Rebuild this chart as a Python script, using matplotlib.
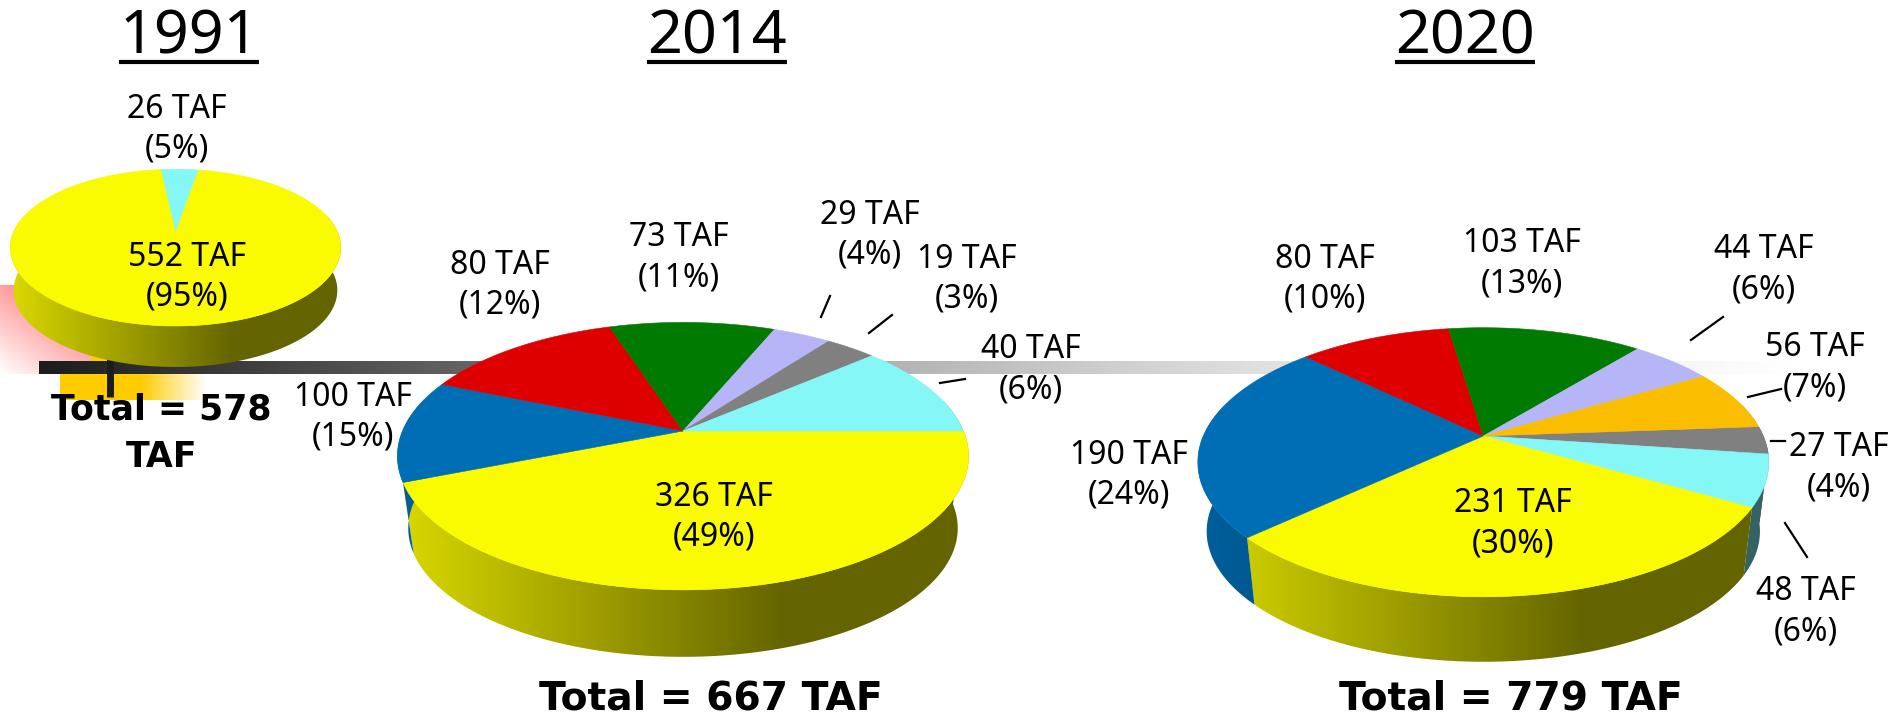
import numpy as np
import matplotlib
matplotlib.use('Agg')
import matplotlib.pyplot as plt
from matplotlib.patches import Polygon

plt.rcParams['font.family'] = ['Noto Sans', 'DejaVu Sans']

# slice sizes are degrees as drawn in the picture, the labels do not follow them
colors_1991 = ['#85F7F7', '#FAFA00']
slices_1991 = [15.9, 344.1]
labels_1991 = ['26 TAF\n(5%)', '552 TAF\n(95%)']

colors_2014 = ['#FAFA00', '#006EB5', '#DE0000', '#007A00', '#B5B5F7', '#808080', '#85F7F7']
slices_2014 = [158.2, 44.6, 49.2, 40.5, 14.2, 12.4, 40.9]
labels_2014 = ['326 TAF\n(49%)', '100 TAF\n(15%)', '80 TAF\n(12%)', '73 TAF\n(11%)',
               '29 TAF\n(4%)', '19 TAF\n(3%)', '40 TAF\n(6%)']

colors_2020 = ['#808080', '#85F7F7', '#FAFA00', '#006EB5', '#DE0000', '#007A00', '#B5B5F7', '#FABD00']
slices_2020 = [12.0, 22.2, 107.0, 87.0, 37.5, 47.8, 20.3, 26.2]
labels_2020 = ['27 TAF\n(4%)', '48 TAF\n(6%)', '231 TAF\n(30%)', '190 TAF\n(24%)',
               '80 TAF\n(10%)', '103 TAF\n(13%)', '44 TAF\n(6%)', '56 TAF\n(7%)']

years = ['1991', '2014', '2020']
totals = ['Total = 578\nTAF', 'Total = 667 TAF', 'Total = 779 TAF']

# label centres in pixels, same order as the labels
pos_1991 = [(177, 129), (187, 277)]
pos_2014 = [(714, 517), (353, 417), (500, 285), (679, 258), (870, 235), (967, 279), (1031, 370)]
pos_2020 = [(1839, 468), (1806, 612), (1513, 524), (1129, 475), (1325, 279), (1522, 264), (1764, 270), (1815, 368)]

leaders = [((821, 317), (830, 296)), ((869, 333), (892, 315)), ((940, 383), (965, 379)),
           ((1691, 340), (1723, 317)), ((1748, 397), (1781, 389)), ((1771, 441), (1785, 441)),
           ((1785, 523), (1807, 557))]


def project(t, cx, cy, a, b, k, scale=1.0, drop=0.0):
    u = np.cos(t)
    v = np.sin(t)
    x = cx + scale * b * u / (1 - k * v)
    y = cy + drop + scale * a * v / (1 - k * v)
    return x, y


def draw_pie(ax, slices, colors, start, cx, cy, a, b, k, scale, drop):
    # angles run clockwise on screen
    edges = start + np.cumsum([0] + list(slices))
    left = cx - b / np.sqrt(1 - k * k)
    width = 2 * b / np.sqrt(1 - k * k)
    bottom = cy + drop + scale * a / (1 - k)

    for i, col in enumerate(colors):
        t = np.radians(np.linspace(edges[i], edges[i + 1], 200))
        keep = np.sin(t) > -0.25
        if keep.sum() < 2:
            continue
        t = t[keep]
        x1, y1 = project(t, cx, cy, a, b, k)
        x2, y2 = project(t, cx, cy, a, b, k, scale, drop)
        pts = np.column_stack([np.r_[x1, x2[::-1]], np.r_[y1, y2[::-1]]])
        poly = Polygon(pts, closed=True, fc='none', ec='none')
        ax.add_patch(poly)
        frac = np.linspace(0, 1, 300)
        shade = np.interp(frac, [0, 0.68, 1], [0.87, 0.40, 0.40])
        rgb = np.array(matplotlib.colors.to_rgb(col))
        img = shade[None, :, None] * rgb[None, None, :]
        im = ax.imshow(img, extent=(left, left + width, bottom, cy - a), aspect='auto', zorder=2,
                       interpolation='bilinear')
        im.set_clip_path(poly)

    for i, col in enumerate(colors):
        t = np.radians(np.linspace(edges[i], edges[i + 1], 200))
        x, y = project(t, cx, cy, a, b, k)
        pts = np.column_stack([np.r_[cx, x], np.r_[cy, y]])
        ax.add_patch(Polygon(pts, closed=True, fc=col, ec=col, lw=0.4, zorder=3))


def fade_rect(ax, x0, x1, y0, y1, rgb, alpha):
    img = np.zeros(alpha.shape + (4,))
    img[..., :3] = matplotlib.colors.to_rgb(rgb)
    img[..., 3] = alpha
    ax.imshow(img, extent=(x0, x1, y1, y0), aspect='auto', zorder=1, interpolation='bilinear')


fig = plt.figure(figsize=(18.9, 7.18), dpi=100)
ax = fig.add_axes([0, 0, 1, 1])

# the leftover shapes behind the first pie
gx, gy = np.meshgrid(np.linspace(0, 1, 100), np.linspace(0, 1, 100))
fade_rect(ax, 0, 92, 285, 374, '#FF8080', np.clip(gx * 0.55 + (1 - gy) * 0.75, 0, 1))
ox = np.linspace(0, 1, 200)[None, :]
fade_rect(ax, 60, 207, 374, 400, '#FFCC00', np.interp(ox, [0, 0.55, 1], [1, 1, 0]))
fade_rect(ax, 91, 207, 353, 361, '#FFCC00', np.interp(ox, [0, 0.4, 1], [1, 1, 0]))

# connector bar
bx = np.linspace(39, 1790, 600)
grey = np.interp(bx, [39, 470, 885, 1100, 1270, 1700, 1790], [28, 100, 178, 205, 225, 248, 255]) / 255
ax.imshow(np.dstack([grey, grey, grey]), extent=(39, 1790, 374, 361), aspect='auto', zorder=1,
          interpolation='bilinear')
ax.plot([109.5, 109.5], [353, 397], color='#1C1C1C', lw=5, zorder=1.5, solid_capstyle='butt')

draw_pie(ax, slices_1991, colors_1991, -96.2, 175.5, 233, 75.6, 162.4, 0.187, 0.979, 43)
draw_pie(ax, slices_2014, colors_2014, 0, 683, 431, 129, 280.5, 0.188, 0.962, 73)
draw_pie(ax, slices_2020, colors_2020, -4.2, 1483.3, 436, 129.4, 280, 0.195, 0.969, 70)

for labs, pos in [(labels_1991, pos_1991), (labels_2014, pos_2014), (labels_2020, pos_2020)]:
    for lab, (x, y) in zip(labs, pos):
        ax.text(x, y, lab, fontsize=23, ha='center', va='center', linespacing=1.28, color='black', zorder=5)

for p, q in leaders:
    ax.plot([p[0], q[0]], [p[1], q[1]], color='black', lw=1.6, zorder=5)

for year, x in zip(years, [189, 717, 1465]):
    ax.text(x, 53, year, fontsize=44, ha='center', va='baseline', zorder=5)
    ax.plot([x - 70, x + 70], [62, 62], color='black', lw=3, solid_capstyle='butt', zorder=5)

ax.text(161.5, 433, totals[0], fontsize=25, family='DejaVu Sans', fontweight='bold', ha='center', va='center',
        linespacing=1.5, zorder=5)
ax.text(711, 699, totals[1], fontsize=28.3, family='DejaVu Sans', fontweight='bold', ha='center', va='center', zorder=5)
ax.text(1511, 699, totals[2], fontsize=28.3, family='DejaVu Sans', fontweight='bold', ha='center', va='center', zorder=5)

ax.set_xlim(0, 1890)
ax.set_ylim(718, 0)
ax.axis('off')

fig.savefig('out.png', dpi=100)
